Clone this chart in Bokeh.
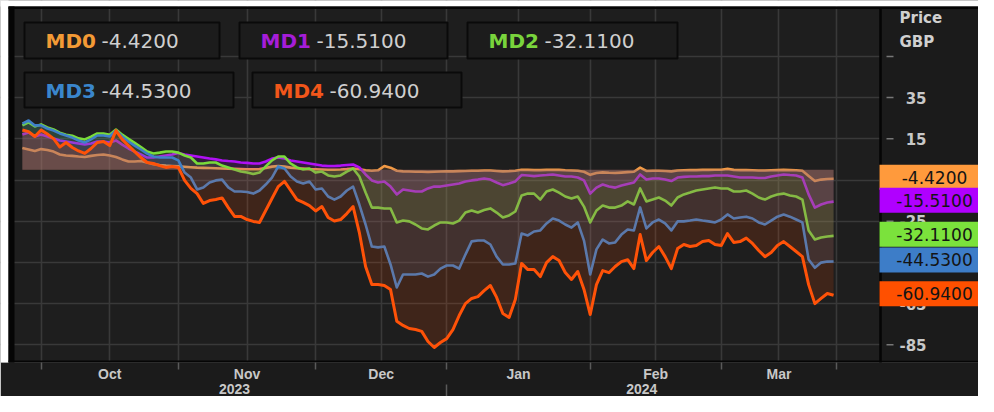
import numpy as np
import pandas as pd
from bokeh.plotting import figure
from bokeh.models import Range1d, FixedTicker, LinearAxis, Grid
from bokeh.core.properties import value
from bokeh.embed import file_html
from bokeh.resources import INLINE

# ---------------- data ----------------
dates = pd.bdate_range("2023-09-27", "2024-03-27")   # business days on the x axis

names = ["MD0", "MD1", "MD2", "MD3", "MD4"]

md0 = [10.5, 9.8, 9.1, 10.0, 9.6, 8.8, 7.4, 6.9, 6.7, 6.4,
       6.2, 6.7, 7.1, 7.4, 6.9, 6.2, 5.0, 4.0, 4.0, 4.2,
       3.5, 2.7, 2.3, 2.0, 1.8, 1.6, 1.4, 1.2, 1.0, 0.9,
       0.8, 0.7, 0.6, 0.5, 0.4, 0.3, 0.2, 0.2, 0.3, 0.8,
       1.5, 1.8, 1.5, 1.0, 0.7, 0.5, 0.3, 0.2, 0.1, 0.0,
       0.0, 0.1, 0.3, 0.6, 0.2, -0.3, -0.5, -0.3, 1.8, 1.0,
       -0.5, -0.8, -0.9, -1.0, -1.0, -1.1, -1.0, -0.9, -0.8, -0.8,
       -0.7, -0.6, -0.5, -0.5, -0.4, -0.4, -0.6, -0.8, -0.7, -0.5,
       0.0, -0.1, -0.2, -0.2, -0.1, 0.0, -0.1, -0.3, -0.4, -0.5,
       -1.0, -2.5, -1.6, -1.3, -1.5, -1.6, -1.4, -1.2, -1.0, 1.0,
       -0.6, -0.5, -0.5, -0.6, -0.8, -0.4, -0.3, -0.2, -0.2, -0.1,
       -0.1, 0.0, 0.0, 0.4, -0.1, -0.2, -0.2, -0.3, -0.4, -0.4,
       -0.3, -0.2, -0.1, -0.2, -0.3, -0.5, -3.0, -5.5, -4.8, -4.5,
       -4.42]

md1 = [17.1, 18.1, 16.1, 17.1, 16.1, 15.1, 14.2, 13.7, 13.2, 12.7,
       12.2, 12.7, 13.7, 13.7, 13.2, 14.2, 12.2, 10.3, 8.8, 7.4,
       5.9, 5.9, 6.4, 6.9, 7.4, 8.1, 7.4, 6.9, 6.4, 5.9,
       5.4, 5.0, 4.5, 4.2, 4.0, 3.5, 3.3, 3.0, 3.0, 4.0,
       5.4, 5.9, 5.4, 4.5, 4.0, 3.5, 3.0, 2.5, 2.0, 1.8,
       1.8, 2.0, 2.3, 2.5, 1.1, -2.3, -5.2, -6.2, -5.7, -8.2,
       -12.0, -9.6, -10.1, -10.6, -10.6, -9.1, -8.2, -8.2, -7.7, -7.2,
       -6.7, -5.7, -5.2, -4.8, -4.3, -4.8, -6.2, -7.5, -6.7, -5.7,
       -2.6, -2.8, -3.1, -2.8, -2.6, -2.3, -2.8, -3.3, -3.3, -3.8,
       -5.2, -11.6, -8.7, -7.2, -8.2, -8.7, -7.7, -6.9, -6.2, -2.3,
       -4.8, -4.3, -4.3, -4.8, -5.5, -3.8, -3.5, -3.3, -3.3, -3.1,
       -3.1, -2.8, -2.8, -2.8, -3.3, -3.8, -3.8, -3.8, -4.0, -4.0,
       -3.3, -2.8, -2.3, -2.6, -2.8, -3.8, -12.0, -18.4, -16.9, -15.9,
       -15.51]

md2 = [21.5, 23.0, 21.0, 22.0, 20.5, 19.5, 18.0, 17.0, 16.5, 15.2,
       14.7, 16.0, 17.6, 17.6, 17.0, 19.5, 17.0, 15.0, 13.0, 11.0,
       8.8, 7.9, 8.3, 8.8, 8.8, 8.3, 6.9, 5.9, 3.0, 3.0,
       3.5, 3.5, 2.0, 1.1, 0.1, -0.9, -1.4, -2.1, -1.4, 1.6,
       4.5, 6.4, 6.4, 3.0, 1.1, 0.1, 0.6, -1.4, -0.9, -2.8,
       -3.3, -2.8, -0.9, 0.6, -3.3, -11.1, -18.4, -18.4, -18.8, -18.8,
       -25.6, -24.7, -25.1, -26.6, -28.5, -29.0, -27.1, -25.6, -25.6, -26.1,
       -24.7, -20.8, -19.8, -20.8, -19.6, -18.8, -20.8, -23.2, -22.2, -20.3,
       -12.5, -11.6, -11.6, -14.5, -10.6, -9.6, -11.1, -13.0, -14.0, -13.0,
       -17.9, -25.6, -19.8, -17.4, -18.4, -18.4, -17.4, -15.4, -16.9, -9.1,
       -15.4, -14.5, -13.5, -15.0, -17.4, -13.5, -12.0, -11.1, -10.1, -9.6,
       -9.1, -8.6, -9.1, -9.1, -10.6, -10.6, -10.1, -11.6, -13.5, -14.5,
       -13.0, -12.0, -11.6, -12.5, -13.0, -14.5, -29.5, -33.9, -32.9, -32.4,
       -32.11]

md3 = [22.4, 23.9, 21.5, 21.5, 20.0, 19.0, 17.6, 16.6, 15.6, 14.2,
       13.2, 14.7, 16.6, 16.6, 16.1, 19.0, 16.1, 13.7, 11.7, 9.8,
       7.8, 6.4, 5.9, 5.9, 5.9, 4.5, -1.4, -3.8, -9.6, -8.6,
       -6.2, -5.2, -4.8, -8.6, -10.6, -10.6, -10.8, -11.6, -10.1, -7.2,
       -3.8, 1.6, 0.6, -3.3, -5.7, -6.7, -5.7, -9.6, -9.1, -13.0,
       -14.5, -13.0, -10.1, -8.2, -16.9, -26.6, -37.3, -37.7, -37.3, -46.0,
       -57.2, -50.9, -50.9, -50.9, -50.4, -51.9, -50.9, -48.0, -46.5, -46.5,
       -48.0, -41.2, -34.8, -34.4, -34.4, -36.3, -42.2, -46.0, -46.0, -45.5,
       -31.0, -31.9, -30.0, -29.5, -26.1, -23.7, -24.7, -26.6, -28.1, -25.6,
       -34.4, -50.9, -38.7, -33.9, -35.8, -35.3, -31.5, -29.0, -29.5, -18.3,
       -28.5, -25.6, -24.2, -26.1, -29.5, -25.1, -25.1, -24.7, -24.2, -24.7,
       -25.1, -25.6, -24.2, -21.7, -23.7, -23.2, -22.8, -23.7, -25.6, -26.6,
       -24.7, -22.8, -21.8, -22.8, -24.2, -25.6, -43.6, -47.6, -45.1, -44.6,
       -44.53]

md4 = [19.3, 18.5, 16.1, 19.3, 17.3, 15.1, 11.0, 13.2, 10.8, 9.1,
       7.9, 10.3, 13.2, 13.7, 11.7, 19.0, 14.7, 11.7, 8.8, 5.9,
       3.5, 3.0, 2.0, 1.1, 1.6, 1.1, -5.2, -9.1, -11.6, -16.4,
       -15.0, -14.5, -13.7, -18.4, -22.7, -22.7, -24.2, -25.1, -25.6, -19.8,
       -14.0, -8.2, -5.7, -10.1, -14.5, -15.9, -17.4, -20.0, -17.9, -23.2,
       -24.9, -24.2, -21.3, -17.9, -30.5, -47.0, -55.7, -55.7, -56.2, -58.2,
       -73.6, -75.6, -77.1, -77.6, -78.5, -83.4, -86.3, -83.9, -82.0, -77.6,
       -70.8, -65.0, -62.5, -61.6, -58.7, -56.2, -62.0, -69.8, -71.7, -63.0,
       -45.5, -48.5, -48.5, -51.9, -45.1, -42.2, -44.1, -49.9, -53.3, -49.4,
       -58.1, -70.3, -55.8, -49.0, -50.0, -47.0, -44.6, -43.7, -48.0, -31.5,
       -44.1, -40.2, -37.3, -42.2, -48.0, -38.3, -36.3, -37.3, -36.8, -34.9,
       -34.4, -36.3, -36.8, -31.0, -35.3, -34.9, -33.2, -35.8, -39.2, -42.2,
       -40.2, -36.8, -34.9, -37.3, -39.7, -42.2, -55.8, -65.0, -62.5, -60.1,
       -60.94]

series = [md0, md1, md2, md3, md4]

y_ticks = [55, 35, 15, -5, -25, -45, -65, -85]
y_tick_labels = [35, 15, -5, -25, -45, -65, -85]
axis_title = ["Price", "GBP"]
month_names = ["Oct", "Nov", "Dec", "Jan", "Feb", "Mar"]
month_firsts = ["2023-10-01", "2023-11-01", "2023-12-01", "2024-01-01", "2024-02-01", "2024-03-01"]
year_names = ["2023", "2024"]
year_first = "2024-01-01"

# ---------------- styles ----------------
line_colors = ["#F29A45", "#B010F5", "#7ADB3A", "#3F80C8", "#FF5208"]
badge_colors = ["#FF9A3C", "#B000FF", "#7BE23C", "#3D7DC8", "#FF5000"]
label_colors = ["#F39A35", "#A51DD8", "#79D43C", "#3A86CC", "#F2561A"]
legend_boxes = [(24, 28, 219, 64), (239, 28, 447, 64), (467, 28, 677, 64),
                (24, 78, 233, 113), (252, 78, 461, 113)]

# screen-geometry helpers (reference pixel -> data units)
PX0, PXD = 21.88, 6.24
PY15, PYD = 144.3, 2.06


def X(px):
    return (px - PX0) / PXD


def Y(py):
    return 15 - (py - PY15) / PYD


n = len(dates)
x = np.arange(n)
assert all(len(s) == n for s in series)

month_starts = [int(dates.searchsorted(pd.Timestamp(d))) for d in month_firsts]
end_pos = n - 0.5
bounds = month_starts + [end_pos]
month_mids = [(bounds[i] + bounds[i + 1]) / 2 for i in range(len(month_names))]
year_cut = int(dates.searchsorted(pd.Timestamp(year_first)))
year_mids = [(0 + year_cut) / 2, (year_cut + end_pos) / 2]
grid_x = sorted(bounds + month_mids)

p = figure(width=978, height=396,
           x_range=Range1d(X(0), X(978)), y_range=Range1d(Y(368), Y(6)),
           output_backend="svg", toolbar_location=None, y_axis_location=None,
           min_border_left=0, min_border_right=0, min_border_top=0, min_border_bottom=34,
           background_fill_color="#1e1e1e", border_fill_color="#1b1b1b",
           outline_line_color=None)

p.xgrid.visible = False
p.ygrid.visible = False
p.add_layout(Grid(dimension=0, ticker=FixedTicker(ticks=grid_x),
                  grid_line_color="#393939", grid_line_width=1.6), "center")
p.add_layout(Grid(dimension=1, ticker=FixedTicker(ticks=y_ticks),
                  grid_line_color="#393939", grid_line_width=1.6), "center")

# month axis
ax = p.xaxis[0]
ax.ticker = FixedTicker(ticks=month_mids, minor_ticks=bounds)
ax.major_label_overrides = dict(zip(month_mids, month_names))
ax.major_tick_line_color = None
ax.major_tick_out = 0
ax.major_tick_in = 0
ax.minor_tick_out = 7
ax.minor_tick_in = 0
ax.minor_tick_line_color = "#5a5a5a"
ax.minor_tick_line_width = 1.5
ax.axis_line_color = None
ax.major_label_standoff = -4
ax.major_label_text_font = "Liberation Sans"
ax.major_label_text_font_style = "bold"
ax.major_label_text_font_size = "14px"
ax.major_label_text_color = "#c8c8c8"

# year axis
yax = LinearAxis(ticker=FixedTicker(ticks=year_mids, minor_ticks=[year_cut]),
                 major_label_overrides=dict(zip(year_mids, year_names)),
                 major_tick_line_color=None, major_tick_out=0, major_tick_in=0,
                 minor_tick_out=14, minor_tick_in=0, minor_tick_line_color="#5a5a5a",
                 minor_tick_line_width=1.5, axis_line_color=None, major_label_standoff=-15,
                 major_label_text_font="Liberation Sans", major_label_text_font_style="bold",
                 major_label_text_font_size="14px", major_label_text_color="#c8c8c8")
p.add_layout(yax, "below")

# series: fill to zero + line
for k in range(len(series)):
    p.varea(x=x, y1=0, y2=series[k], fill_color=line_colors[k], fill_alpha=0.15)
    p.line(x, series[k], line_color=line_colors[k],
           line_width=3.0 if k == 4 else 2.6, line_join="round")

# page margin (white) and dark frame borders
p.quad(left=X(-20), right=X(8), bottom=Y(420), top=Y(-20), fill_color="white", line_color=None)
p.quad(left=X(-20), right=X(1000), bottom=Y(12), top=Y(-20), fill_color="white", line_color=None)
p.quad(left=X(8), right=X(14), bottom=Y(370), top=Y(12), fill_color="#050505", line_color=None)
p.quad(left=X(8), right=X(1000), bottom=Y(14.5), top=Y(12), fill_color="#050505", line_color=None)
p.quad(left=X(8), right=X(1000), bottom=Y(370), top=Y(366), fill_color="#050505", line_color=None)

# right price-axis panel
p.quad(left=X(880), right=X(1000), bottom=Y(366), top=Y(14.5), fill_color="#1b1b1b", line_color=None)
p.segment(x0=X(880), x1=X(880), y0=Y(14), y1=Y(420), line_color="#050505", line_width=2.5)
p.segment(x0=[X(886)] * len(y_ticks), x1=[X(893)] * len(y_ticks), y0=y_ticks, y1=y_ticks,
          line_color="#777777", line_width=1.5)
p.text(x=[X(926)] * len(y_tick_labels), y=y_tick_labels, text=[str(v) for v in y_tick_labels],
       text_align="right", text_baseline="middle", text_font=value("DejaVu Sans"),
       text_font_style="bold", text_font_size="15px", text_color="#c8c8c8")
p.text(x=[X(899)] * 2, y=[Y(23), Y(47)], text=axis_title, text_align="left",
       text_baseline="middle", text_font=value("DejaVu Sans"), text_font_style="bold",
       text_font_size="15px", text_color="#d0d0d0")

# last-value badges
lasts = [s[-1] for s in series]
off = 1.5 / PYD
half = 12.5 / PYD
p.quad(left=[X(879)] * 5, right=[X(1000)] * 5,
       top=[v + off + half for v in lasts], bottom=[v + off - half for v in lasts],
       fill_color=badge_colors, line_color=None)
p.text(x=[X(934)] * 5, y=[v + off for v in lasts], text=[f"{v:.4f}" for v in lasts],
       text_align="center", text_baseline="middle", text_font=value("DejaVu Sans"),
       text_font_size="17px", text_color="#141414")

# legend boxes
p.quad(left=[X(b[0]) for b in legend_boxes], right=[X(b[2]) for b in legend_boxes],
       top=[Y(b[1]) for b in legend_boxes], bottom=[Y(b[3]) for b in legend_boxes],
       fill_color="#1c1c1c", line_color="#0a0a0a", line_width=2)
p.text(x=[X(b[0] + 21) for b in legend_boxes], y=[Y((b[1] + b[3]) / 2 + 0.5) for b in legend_boxes],
       text=names, text_align="left", text_baseline="middle", text_font=value("DejaVu Sans"),
       text_font_style="bold", text_font_size="20px", text_color=label_colors)
p.text(x=[X(b[0] + 77) for b in legend_boxes], y=[Y((b[1] + b[3]) / 2 + 0.5) for b in legend_boxes],
       text=[f"{v:.4f}" for v in lasts], text_align="left", text_baseline="middle",
       text_font=value("DejaVu Sans"), text_font_size="20px", text_color="#cfcfcf")

open("out.html", "w").write(file_html(p, INLINE))
